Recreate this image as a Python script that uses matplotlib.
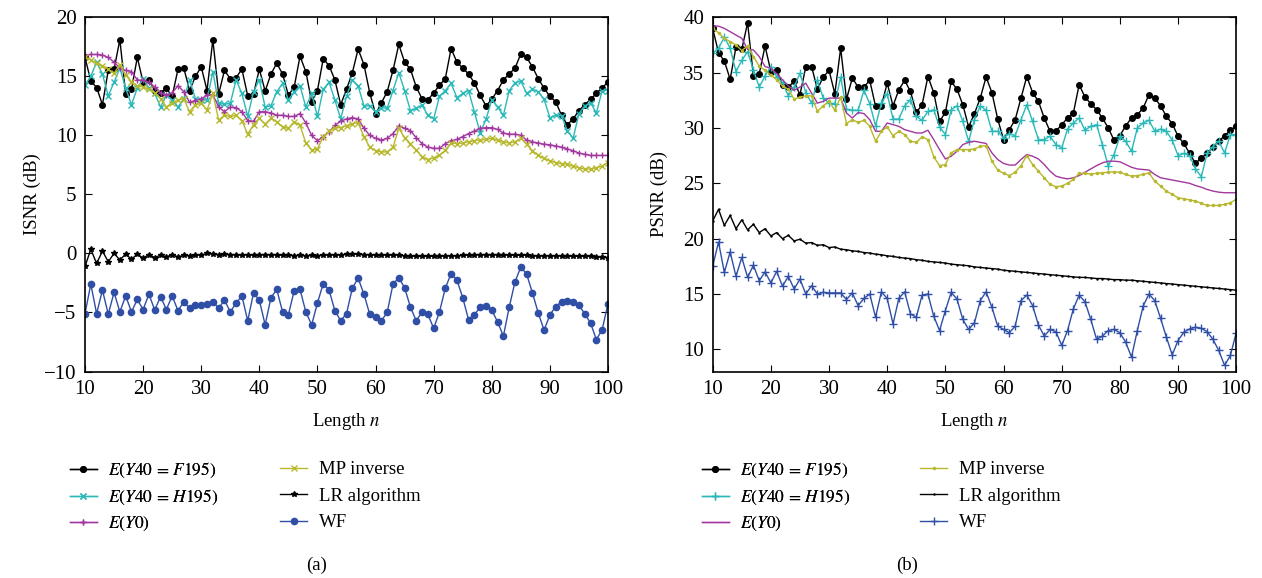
import matplotlib
matplotlib.use('Agg')
import matplotlib.pyplot as plt

plt.rcParams['font.family'] = ['Liberation Serif', 'DejaVu Serif']
plt.rcParams['mathtext.fontset'] = 'stix'

n = list(range(10, 101))

# ---- (a) ISNR ----
isnr_f195 = [16.6, 14.6, 14.05, 12.6, 15.5, 15.6, 18.1, 13.5, 13.9, 16.6,
             14.5, 14.65, 13.8, 13.6, 14.0, 13.3, 15.6, 15.7, 13.8, 15.0,
             15.8, 13.8, 18.1, 13.5, 15.5, 14.8, 14.9, 15.6, 13.35, 13.5,
             15.6, 13.75, 15.2, 16.1, 15.2, 13.4, 14.1, 16.7, 15.4, 12.85,
             13.8, 16.5, 15.9, 14.7, 12.6, 13.9, 15.3, 17.3, 16.0, 13.6,
             11.8, 12.75, 13.7, 15.5, 17.7, 16.2, 15.6, 14.1, 13.1, 13.0,
             13.6, 14.25, 14.8, 17.35, 16.2, 15.7, 15.2, 14.45, 13.4, 12.5,
             13.05, 13.8, 14.7, 15.2, 15.7, 16.9, 16.6, 15.8, 14.8, 14.0,
             13.3, 12.85, 11.7, 10.9, 11.4, 12.1, 12.6, 13.05, 13.55, 14.05, 14.5]
isnr_h195 = [14.25, 15.0, 16.2, 15.2, 13.35, 14.5, 15.7, 14.0, 12.6, 14.0,
             14.8, 14.0, 13.55, 12.4, 13.4, 13.0, 12.4, 13.1, 14.7, 13.1,
             13.0, 13.0, 15.4, 12.7, 12.65, 12.7, 14.7, 13.55, 11.6, 13.7,
             14.7, 12.4, 12.5, 13.7, 14.4, 13.0, 13.7, 14.2, 12.4, 13.55,
             11.6, 13.9, 14.5, 13.0, 11.4, 13.3, 14.7, 14.2, 12.5, 12.5,
             12.0, 12.35, 12.3, 13.8, 15.3, 13.8, 12.1, 12.3, 12.55, 11.7,
             11.4, 13.3, 13.8, 14.4, 13.2, 13.55, 13.8, 12.0, 10.2, 11.35,
             13.0, 12.4, 11.7, 13.8, 14.45, 14.6, 13.55, 13.9, 13.7, 13.05,
             11.5, 11.7, 11.65, 10.4, 9.75, 11.85, 12.5, 12.75, 11.9, 13.8, 13.8]
isnr_y0 = [16.8, 16.85, 16.85, 16.8, 16.6, 16.2, 15.7, 15.5, 15.4, 14.7,
           14.65, 14.5, 14.1, 13.6, 13.4, 13.6, 14.2, 13.7, 12.8, 12.95,
           13.1, 13.4, 13.45, 12.4, 12.0, 12.4, 12.35, 12.0, 11.25, 11.2,
           12.0, 12.0, 11.9, 11.7, 11.7, 11.6, 11.6, 11.85, 11.05, 10.0,
           9.55, 9.9, 10.3, 10.85, 11.2, 11.4, 11.5, 11.4, 10.6, 10.0,
           9.75, 9.6, 9.75, 10.15, 10.8, 10.6, 10.4, 9.8, 9.3, 9.0,
           8.9, 8.9, 9.3, 9.55, 9.65, 9.9, 10.15, 10.35, 10.6, 10.65,
           10.65, 10.5, 10.2, 10.1, 10.1, 10.0, 9.6, 9.45, 9.35, 9.25,
           9.2, 9.1, 9.0, 8.85, 8.7, 8.5, 8.4, 8.3, 8.3, 8.3, 8.3]
isnr_mp = [16.65, 16.4, 16.1, 15.9, 15.6, 15.25, 16.0, 15.1, 14.55, 14.2,
           14.1, 13.9, 13.6, 13.1, 12.4, 12.7, 13.0, 13.1, 12.0, 12.6,
           12.7, 12.15, 13.55, 11.3, 11.7, 11.6, 11.7, 11.25, 10.1, 10.9,
           11.45, 10.95, 11.45, 11.15, 10.7, 10.6, 11.15, 10.85, 9.35, 8.75,
           8.85, 9.9, 10.35, 10.65, 10.65, 10.8, 11.0, 11.05, 9.9, 9.0,
           8.7, 8.6, 8.6, 9.0, 10.6, 9.8, 9.3, 8.75, 8.2, 7.95,
           8.1, 8.3, 8.75, 9.35, 9.3, 9.35, 9.45, 9.55, 9.6, 9.65,
           9.75, 9.6, 9.45, 9.35, 9.45, 9.75, 9.25, 8.7, 8.3, 8.05,
           7.85, 7.7, 7.6, 7.55, 7.4, 7.25, 7.15, 7.15, 7.25, 7.4, 7.7]
isnr_lr = [-1.1, 0.35, -0.85, 0.2, -0.7, 0.0, -0.55, -0.05, -0.5, -0.05,
           -0.4, -0.1, -0.35, -0.15, -0.3, -0.1, -0.3, -0.15, -0.2, -0.1,
           -0.15, 0.0, -0.05, -0.1, -0.05, -0.1, -0.1, -0.15, -0.1, -0.15,
           -0.1, -0.1, -0.1, -0.1, -0.15, -0.1, -0.2, -0.15, -0.2, -0.15,
           -0.2, -0.1, -0.15, -0.1, -0.15, -0.05, -0.05, -0.05, -0.1, -0.1,
           -0.15, -0.1, -0.15, -0.1, -0.15, -0.2, -0.2, -0.25, -0.25, -0.25,
           -0.25, -0.25, -0.2, -0.2, -0.2, -0.15, -0.15, -0.1, -0.1, -0.1,
           -0.1, -0.1, -0.1, -0.15, -0.15, -0.15, -0.15, -0.2, -0.2, -0.2,
           -0.2, -0.2, -0.2, -0.2, -0.25, -0.25, -0.25, -0.25, -0.3, -0.3, -0.35]
isnr_wf = [-5.1, -2.6, -5.1, -3.1, -5.15, -3.3, -4.95, -3.6, -4.95, -3.9,
           -4.75, -3.45, -4.8, -3.65, -4.75, -3.6, -4.85, -4.1, -4.65, -4.4,
           -4.4, -4.3, -4.1, -4.65, -3.95, -4.95, -4.2, -3.6, -5.7, -3.35,
           -3.95, -6.05, -3.75, -3.05, -4.95, -5.2, -3.15, -3.05, -4.95, -6.05,
           -4.2, -2.55, -3.1, -4.85, -5.7, -5.1, -2.95, -2.1, -3.45, -5.15,
           -5.4, -5.7, -5.0, -2.6, -2.05, -2.9, -4.55, -5.7, -4.95, -5.15,
           -6.35, -4.95, -2.95, -1.7, -2.25, -3.75, -5.6, -5.2, -4.55, -4.45,
           -4.8, -5.8, -7.0, -4.55, -2.4, -1.15, -1.75, -3.35, -5.05, -6.5,
           -5.2, -4.5, -4.1, -4.0, -4.1, -4.4, -5.1, -5.9, -7.3, -6.45, -4.25]

# ---- (b) PSNR ----
psnr_f195 = [39.0, 36.8, 36.05, 34.4, 37.3, 37.1, 39.5, 34.7, 34.9, 37.4,
             35.1, 35.25, 33.9, 33.7, 34.2, 33.0, 35.5, 35.55, 33.5, 34.6,
             35.2, 33.1, 37.2, 32.6, 34.5, 33.7, 33.7, 34.3, 31.95, 32.0,
             34.05, 32.0, 33.45, 34.3, 33.3, 31.4, 32.1, 34.65, 33.2, 30.6,
             31.4, 34.2, 33.5, 32.1, 30.1, 31.3, 32.7, 34.6, 33.2, 30.8,
             28.95, 29.85, 30.75, 32.7, 34.65, 33.2, 32.4, 30.9, 29.7, 29.7,
             30.3, 30.9, 31.35, 33.9, 32.8, 32.2, 31.65, 30.9, 30.0, 28.9,
             29.3, 30.2, 30.9, 31.2, 31.8, 33.0, 32.7, 32.0, 31.05, 30.4,
             29.25, 28.6, 27.7, 26.8, 27.3, 27.7, 28.3, 28.8, 29.3, 29.8, 30.2]
psnr_h195 = [36.75, 37.2, 38.2, 37.2, 35.1, 36.1, 36.9, 35.25, 33.7, 34.7,
             35.55, 34.6, 34.1, 32.9, 33.7, 34.95, 33.2, 32.25, 34.3, 32.7,
             32.25, 32.2, 34.6, 31.7, 31.6, 31.6, 33.4, 32.2, 30.2, 32.25,
             33.1, 30.8, 30.8, 32.0, 32.55, 31.05, 30.7, 31.5, 31.65, 30.1,
             29.4, 31.65, 32.0, 30.6, 28.8, 30.75, 32.0, 31.6, 29.7, 29.7,
             29.1, 29.5, 29.3, 30.75, 32.1, 30.6, 28.95, 28.95, 29.25, 28.5,
             28.2, 29.9, 30.45, 30.9, 29.8, 30.15, 30.3, 28.5, 26.55, 27.6,
             29.25, 28.8, 27.9, 30.0, 30.45, 30.7, 29.7, 29.9, 29.7, 28.9,
             27.5, 27.7, 27.5, 26.3, 25.6, 27.7, 28.3, 28.8, 27.75, 29.4, 29.4]
psnr_y0 = [39.2, 39.2, 39.0, 38.7, 38.4, 38.1, 37.1, 37.05, 36.45, 35.55,
           35.4, 34.9, 34.35, 33.8, 33.4, 33.7, 34.05, 33.15, 32.25, 32.4,
           32.7, 32.7, 32.7, 31.35, 30.9, 31.4, 31.3, 30.75, 29.7, 29.7,
           30.45, 30.3, 30.15, 29.85, 29.7, 29.55, 29.55, 29.8, 28.95, 28.05,
           27.2, 27.45, 27.9, 28.5, 28.7, 28.8, 28.7, 28.6, 27.75, 27.15,
           26.8, 26.65, 26.65, 27.15, 27.6, 27.45, 27.2, 26.7, 26.1, 25.65,
           25.5, 25.4, 25.5, 25.7, 26.0, 26.3, 26.6, 26.85, 27.0, 27.0,
           26.95, 26.7, 26.45, 26.3, 26.25, 26.2, 25.8, 25.5, 25.4, 25.3,
           25.2, 25.1, 25.0, 24.8, 24.65, 24.45, 24.3, 24.2, 24.15, 24.15, 24.15]
psnr_mp = [39.0, 38.6, 38.1, 37.8, 37.5, 37.0, 37.4, 36.45, 35.6, 35.2,
           34.8, 34.35, 33.8, 33.5, 32.6, 32.8, 32.9, 32.9, 31.5, 32.0,
           32.4, 31.6, 32.8, 30.4, 30.75, 30.5, 30.7, 30.15, 28.8, 29.7,
           30.1, 29.3, 29.7, 29.4, 28.8, 28.7, 29.2, 28.95, 27.4, 26.6,
           26.7, 27.75, 28.05, 28.05, 28.05, 28.1, 28.35, 28.4, 27.0, 26.2,
           25.9, 25.7, 26.0, 26.6, 27.5, 26.7, 26.1, 25.5, 24.9, 24.7,
           24.75, 25.0, 25.35, 25.9, 25.9, 25.85, 25.9, 25.95, 26.0, 26.05,
           26.0, 25.8, 25.65, 25.7, 25.8, 25.95, 25.2, 24.75, 24.3, 24.0,
           23.7, 23.6, 23.5, 23.4, 23.2, 23.0, 23.0, 23.0, 23.1, 23.25, 23.55]
psnr_lr = [21.6, 22.65, 21.2, 22.1, 20.9, 21.7, 20.8, 21.3, 20.55, 20.9,
           20.25, 20.55, 20.0, 20.3, 19.8, 19.95, 19.6, 19.65, 19.4, 19.45,
           19.2, 19.25, 19.05, 19.0, 18.9, 18.85, 18.75, 18.7, 18.6, 18.55,
           18.45, 18.4, 18.3, 18.25, 18.2, 18.1, 18.05, 17.95, 17.9, 17.85,
           17.8, 17.7, 17.65, 17.6, 17.55, 17.45, 17.4, 17.35, 17.3, 17.25,
           17.15, 17.1, 17.05, 17.0, 16.95, 16.9, 16.85, 16.8, 16.75, 16.7,
           16.65, 16.6, 16.55, 16.5, 16.5, 16.45, 16.4, 16.4, 16.35, 16.3,
           16.3, 16.25, 16.25, 16.2, 16.15, 16.1, 16.05, 16.0, 15.95, 15.9,
           15.85, 15.8, 15.75, 15.7, 15.65, 15.6, 15.55, 15.5, 15.45, 15.4, 15.35]
psnr_wf = [17.5, 19.7, 16.95, 18.8, 16.6, 18.3, 16.5, 17.6, 16.2, 17.0,
           16.0, 17.05, 15.7, 16.6, 15.45, 16.35, 15.0, 15.75, 15.0, 15.15,
           15.1, 15.1, 15.1, 14.5, 15.1, 13.95, 14.6, 15.0, 12.9, 15.2,
           14.6, 12.3, 14.6, 15.2, 13.2, 12.9, 14.9, 15.0, 13.0, 11.7,
           13.5, 15.15, 14.55, 12.7, 11.8, 12.4, 14.4, 15.2, 13.8, 12.1,
           11.8, 11.5, 12.1, 14.4, 14.9, 13.95, 12.2, 11.2, 11.8, 11.6,
           10.35, 11.7, 13.65, 14.9, 14.3, 12.7, 10.9, 11.2, 11.7, 11.8,
           11.5, 10.65, 9.3, 11.7, 13.9, 15.0, 14.4, 12.8, 11.1, 9.5,
           10.8, 11.55, 11.85, 12.0, 11.9, 11.6, 10.9, 9.9, 8.55, 9.45, 11.5]

labels = [r'$E(Y40\,=\,F195)$', r'$E(Y40\,=\,H195)$', r'$E(Y0)$',
          'MP inverse', 'LR algorithm', 'WF']
colors = ['black', '#2bb8b8', '#a2379f', '#b7b82d', 'black', '#2f4fa6']
markers_a = ['o', 'x', '+', 'x', '*', 'o']
sizes_a = [4, 4, 5, 4, 4, 4.5]
markers_b = ['o', '+', '', '.', '.', '+']
sizes_b = [4, 6, 0, 3, 1.5, 6]

W, H = 1262, 578


def plot_panel(ax, series, markers, sizes, ylabel, ylim, yticks, caption,
               leg_x1, leg_x2, cap_x):
    lines = []
    for y, lab, c, m, s in zip(series, labels, colors, markers, sizes):
        ln, = ax.plot(n, y, color=c, marker=m, markersize=s, linewidth=1.0,
                      markeredgewidth=1.0, label=lab)
        lines.append(ln)
    ax.set_xlim(10, 100)
    ax.set_ylim(*ylim)
    ax.set_xticks(range(10, 101, 10))
    ax.set_yticks(yticks)
    ax.tick_params(direction='in', top=True, right=True, labelsize=15, length=5)
    ax.tick_params(axis='x', pad=6)
    ax.tick_params(axis='y', pad=6)
    for sp in ax.spines.values():
        sp.set_linewidth(1.2)
    ax.set_ylabel(ylabel, fontsize=13.5)
    ax.yaxis.set_label_coords(-0.085, 0.5)
    ax.set_xlabel(r'Length $n$', fontsize=13.5)
    ax.xaxis.set_label_coords(0.5, -0.112)

    common = dict(loc='upper left', frameon=False, handlelength=1.55,
                  handletextpad=0.65, borderpad=0, borderaxespad=0,
                  bbox_transform=fig.transFigure)
    leg1 = fig.legend(lines[:3], labels[:3], fontsize=12.5, labelspacing=0.46,
                      bbox_to_anchor=(leg_x1 / W, 1 - 461 / H), **common)
    fig.legend(lines[3:], labels[3:], fontsize=13.5, labelspacing=0.5,
               handlelength=1.45, bbox_to_anchor=(leg_x2 / W, 1 - 461 / H),
               **{k: v for k, v in common.items() if k != 'handlelength'})
    fig.add_artist(leg1)
    fig.text(cap_x / W, 1 - 565 / H, caption, fontsize=13.5,
             ha='center', va='center')


fig = plt.figure(figsize=(12.62, 5.78), dpi=100)
ax_a = fig.add_axes([85 / W, 1 - 371.5 / H, 523 / W, 354.2 / H])
ax_b = fig.add_axes([712.7 / W, 1 - 371.5 / H, 523.5 / W, 354.2 / H])

plot_panel(ax_a, [isnr_f195, isnr_h195, isnr_y0, isnr_mp, isnr_lr, isnr_wf],
           markers_a, sizes_a, 'ISNR (dB)', (-10, 20), range(-10, 21, 5),
           '(a)', 70, 280, 317)
plot_panel(ax_b, [psnr_f195, psnr_h195, psnr_y0, psnr_mp, psnr_lr, psnr_wf],
           markers_b, sizes_b, 'PSNR (dB)', (8, 40), range(10, 41, 5),
           '(b)', 702, 920, 907)

fig.savefig('out.png', dpi=100)
